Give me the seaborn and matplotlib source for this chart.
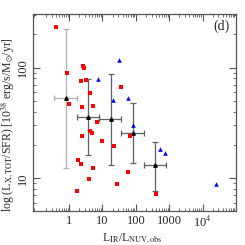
import numpy as np
import pandas as pd
import matplotlib
matplotlib.use("Agg")
import matplotlib.pyplot as plt
import seaborn as sns
from matplotlib.ticker import LogLocator, FixedLocator, FixedFormatter, NullFormatter

# red squares
red_x = [0.41, 0.89, 1.02, 2.63, 2.75, 2.24, 3.1, 4.25, 2.5, 5.1, 7.07, 4.16, 4.78,
         2.45, 10.0, 22.9, 37.0, 69.0, 1.9, 2.29, 5.2, 57.0, 4.07, 26.9, 1.7, 389.0]
red_y = [233, 90, 47, 103, 99, 75, 77, 59, 43.6, 45.4, 32.5, 26.8, 25.9,
         24.2, 21.9, 19.7, 66.8, 24.3, 14.5, 13.6, 12.3, 11.3, 9.8, 8.95, 7.74, 7.2]

# blue triangles
blue_x = [31.6, 7.24, 20.4, 58.6, 80.6, 518, 748, 24600]
blue_y = [117, 79.5, 51.4, 53.6, 30.6, 18.5, 16.9, 8.8]

# binned means
bin_x = [0.79, 3.7, 17.4, 80.6, 366]
bin_y = [52.8, 35.8, 34.3, 25.9, 13.1]
bin_xlo = [0.356, 1.70, 8.1, 37, 170]
bin_xhi = [1.78, 8.1, 37, 177, 806]
bin_ylo = [12.5, 16.3, 13.3, 13.8, 7.74]
bin_yhi = [222, 78.5, 87, 48.3, 21.4]

sns.set_style("ticks")
plt.rcParams['font.family'] = ['Liberation Serif', 'DejaVu Serif']
plt.rcParams['mathtext.fontset'] = 'stix'

fig = plt.figure(figsize=(2.45, 2.45), dpi=100)
ax = fig.add_axes([0.135, 0.139, 0.828, 0.804])

red = pd.DataFrame({'x': red_x, 'y': red_y})
blue = pd.DataFrame({'x': blue_x, 'y': blue_y})

for i in range(len(bin_x)):
    c = '#b0b0b0' if i == 0 else '#606060'
    ax.errorbar(bin_x[i], bin_y[i],
                xerr=[[bin_x[i] - bin_xlo[i]], [bin_xhi[i] - bin_x[i]]],
                yerr=[[bin_y[i] - bin_ylo[i]], [bin_yhi[i] - bin_y[i]]],
                fmt='^', color='black', ms=2.5, ecolor=c, elinewidth=0.9,
                capsize=2.5, capthick=0.9, zorder=2)

sns.scatterplot(data=red, x='x', y='y', marker='s', color='#ff0000', s=9,
                linewidth=0, ax=ax, zorder=3)
sns.scatterplot(data=blue, x='x', y='y', marker='^', color='#0000ff', s=11,
                linewidth=0, ax=ax, zorder=3)

ax.set_xscale('log')
ax.set_yscale('log')
ax.set_xlim(0.083, 1e5)
ax.set_ylim(5.07, 305)

ax.xaxis.set_major_locator(FixedLocator([1, 10, 100, 1000, 1e4]))
ax.xaxis.set_major_formatter(FixedFormatter(['1', '10', '100', '1000', r'10$^4$']))
ax.xaxis.set_minor_locator(LogLocator(base=10, subs=np.arange(2, 10), numticks=20))
ax.xaxis.set_minor_formatter(NullFormatter())
ax.yaxis.set_major_locator(FixedLocator([10, 100]))
ax.yaxis.set_major_formatter(FixedFormatter(['10', '100']))
ax.yaxis.set_minor_locator(LogLocator(base=10, subs=np.arange(2, 10), numticks=20))
ax.yaxis.set_minor_formatter(NullFormatter())

for s in ax.spines.values():
    s.set_color('#555555')
    s.set_linewidth(0.9)
ax.tick_params(which='both', direction='in', top=True, right=True, color='#555555',
               labelsize=9, pad=3)
ax.tick_params(which='major', length=5, width=0.8)
ax.tick_params(which='minor', length=2.5, width=0.6)
for lab in ax.get_yticklabels():
    lab.set_rotation(90)
    lab.set_va('center')

ax.set_xlabel(r'L$_{\rm IR}$/L$_{\rm NUV,obs}$', fontsize=8.5)
ax.xaxis.set_label_coords(0.49, -0.103)
ax.set_ylabel(r'log (L$_{\rm X,TOT}$/SFR) [10$^{38}$ erg/s/M$_{\odot}$/yr]',
              fontsize=8.5, va='center')
ax.yaxis.set_label_coords(-0.122, 0.44)
ax.text(0.97, 0.97, '(d)', transform=ax.transAxes, ha='right', va='top', fontsize=10)

fig.savefig('out.png', dpi=100)
